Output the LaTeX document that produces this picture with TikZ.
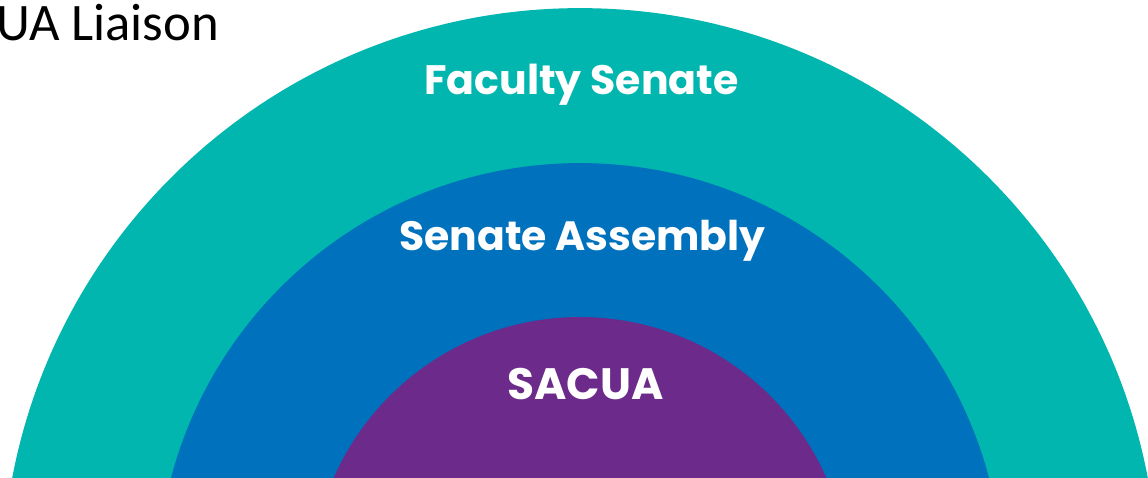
\documentclass[tikz,border=0pt]{standalone}
\usepackage{fontspec}
\setmainfont{Carlito}
\newfontfamily\ringfont{Poppins}
\definecolor{senateteal}{RGB}{0,182,174}
\definecolor{assemblyblue}{RGB}{0,113,188}
\definecolor{sacuapurple}{RGB}{108,42,138}
\begin{document}
\begin{tikzpicture}[x=0.02cm,y=-0.02cm]
            \useasboundingbox (0,0) rectangle (1148,477);
            \clip (0,0) rectangle (1148,477);
            % rings, outer to inner
            \foreach \r/\c in {11.56/senateteal,8.46/assemblyblue,5.38/sacuapurple}
            \fill[\c] (580,586) circle (\r cm);
            \node[anchor=base west,inner sep=0pt,font=\fontsize{30}{36}\selectfont] (liaison) at (-4,40) {UA Liaison};
            \node[anchor=base,inner sep=0pt,text=white,font=\ringfont\bfseries\fontsize{23.4}{28}\selectfont] (faculty) at (581.5,94) {Faculty Senate};
            \node[anchor=base,inner sep=0pt,text=white,font=\ringfont\bfseries\fontsize{23.3}{28}\selectfont] (assembly) at (582.5,250) {Senate Assembly};
            \node[anchor=base,inner sep=0pt,text=white,font=\ringfont\bfseries\fontsize{25}{30}\selectfont] (sacua) at (585.5,399) {SACUA};
        \end{tikzpicture}
\end{document}
